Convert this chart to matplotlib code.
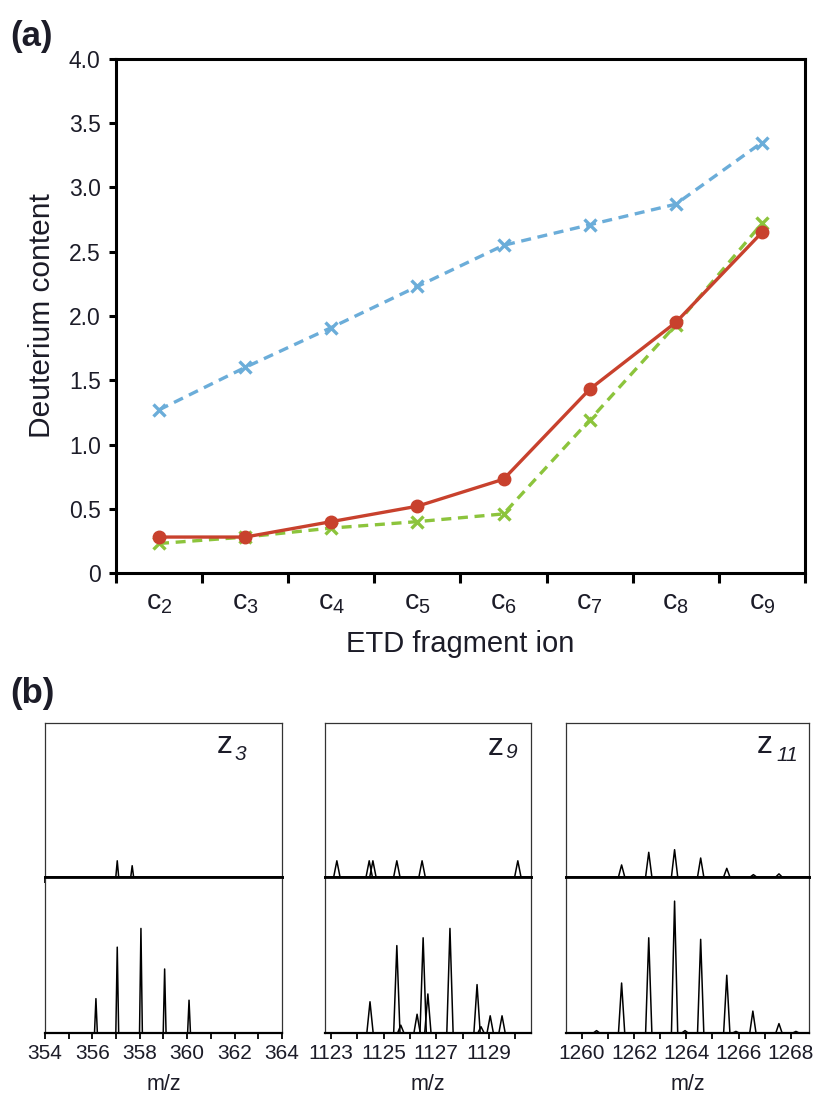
import numpy as np
import matplotlib
matplotlib.use('Agg')
import matplotlib.pyplot as plt

plt.rcParams['font.family'] = ['Liberation Sans', 'DejaVu Sans']
plt.rcParams['mathtext.fontset'] = 'custom'
plt.rcParams['mathtext.rm'] = 'Liberation Sans'
plt.rcParams['mathtext.it'] = 'Liberation Sans:italic'

# (a) deuterium content per ETD fragment ion
ions = ['c$_2$', 'c$_3$', 'c$_4$', 'c$_5$', 'c$_6$', 'c$_7$', 'c$_8$', 'c$_9$']
blue_vals = [1.27, 1.60, 1.91, 2.23, 2.55, 2.71, 2.87, 3.35]
red_vals = [0.28, 0.28, 0.40, 0.52, 0.73, 1.43, 1.95, 2.65]
green_vals = [0.23, 0.28, 0.35, 0.40, 0.46, 1.19, 1.93, 2.72]
y_ticks = [0, 0.5, 1.0, 1.5, 2.0, 2.5, 3.0, 3.5, 4.0]
y_ticklabels = ['0', '0.5', '1.0', '1.5', '2.0', '2.5', '3.0', '3.5', '4.0']

# (b) spectra: peak positions (m/z) and relative heights, top and bottom traces
z3_top_mz = [357.05, 357.68]
z3_top_int = [0.105, 0.073]
z3_bot_mz = [356.15, 357.05, 358.05, 359.05, 360.08]
z3_bot_int = [0.22, 0.55, 0.67, 0.41, 0.21]

z9_top_mz = [1123.22, 1124.45, 1124.59, 1125.5, 1126.46, 1130.1]
z9_top_int = [0.105, 0.105, 0.105, 0.105, 0.105, 0.105]
z9_bot_mz = [1124.48, 1125.5, 1125.65, 1126.27, 1126.5, 1126.68, 1127.52, 1128.55, 1128.7, 1129.05, 1129.5]
z9_bot_int = [0.20, 0.56, 0.05, 0.12, 0.61, 0.25, 0.67, 0.31, 0.04, 0.11, 0.11]

z11_top_mz = [1261.52, 1262.56, 1263.55, 1264.55, 1265.55, 1266.57, 1267.55]
z11_top_int = [0.078, 0.16, 0.177, 0.123, 0.056, 0.015, 0.02]
z11_bot_mz = [1260.56, 1261.52, 1262.56, 1263.55, 1263.95, 1264.55, 1265.55, 1265.9, 1266.55, 1267.55, 1268.2]
z11_bot_int = [0.015, 0.32, 0.61, 0.845, 0.015, 0.60, 0.37, 0.01, 0.14, 0.06, 0.01]

text_col = '#1c1c28'

fig = plt.figure(figsize=(8.15, 10.94), dpi=100)

# ---------- panel (a)
ax = fig.add_axes([0.1423, 0.4762, 0.8454, 0.4699])
x = np.arange(len(ions))
ax.plot(x, blue_vals, color='#6badd9', lw=2.4, ls=(0, (3, 2)), marker='x',
        ms=8, mew=2.4)
ax.plot(x, green_vals, color='#8cc43c', lw=2.4, ls=(0, (3, 2)), marker='x',
        ms=8, mew=2.4)
ax.plot(x, red_vals, color='#c8412d', lw=2.4, marker='o', ms=9)

ax.set_xlim(-0.5, len(ions) - 0.5)
ax.set_ylim(0, 4.0)
ax.set_yticks(y_ticks)
ax.set_yticklabels(y_ticklabels)
ax.set_xticks(np.arange(len(ions) + 1) - 0.5)
ax.set_xticklabels([])
ax.set_xticks(x, minor=True)
ax.set_xticklabels(ions, minor=True)
ax.tick_params(axis='x', which='major', direction='out', length=7, width=2.2)
ax.tick_params(axis='x', which='minor', length=0, pad=12, labelsize=20.5,
               labelcolor=text_col)
ax.tick_params(axis='y', direction='out', length=5, width=2.2, labelsize=16.5,
               labelcolor=text_col, pad=6)
for s in ax.spines.values():
    s.set_linewidth(2.2)
ax.set_xlabel('ETD fragment ion', fontsize=21, color=text_col, labelpad=10)
ax.set_ylabel('Deuterium content', fontsize=21.5, color=text_col, labelpad=9)
fig.text(0.012, 0.967, '(a)', fontsize=25, fontweight='bold', color=text_col,
         va='center')

# ---------- panel (b)
fig.text(0.012, 0.366, '(b)', fontsize=25, fontweight='bold', color=text_col,
         va='center')

columns = [
    ([0.0552, 0.2907], (354, 364), [354, 356, 358, 360, 362, 364], 0.06,
     z3_top_mz, z3_top_int, z3_bot_mz, z3_bot_int, '3', (0.726, 0.805, 0.80, 0.76)),
    ([0.3988, 0.2527], (1122.77, 1130.6), [1123, 1125, 1127, 1129], 0.12,
     z9_top_mz, z9_top_int, z9_bot_mz, z9_bot_int, '9', (0.791, 0.79, 0.874, 0.77)),
    ([0.6945, 0.2981], (1259.39, 1268.70), [1260, 1262, 1264, 1266, 1268], 0.12,
     z11_top_mz, z11_top_int, z11_bot_mz, z11_bot_int, '11', (0.786, 0.805, 0.868, 0.753)),
]

for (left, width), xlim, labs, hw, tmz, tint, bmz, bint, sub, pos in columns:
    axt = fig.add_axes([left, 0.1984, width, 0.1407])
    axb = fig.add_axes([left, 0.0558, width, 0.1426])
    minor = np.arange(int(np.ceil(xlim[0])), xlim[1] + 0.01, 1)
    for a, mz, inten in ((axt, tmz, tint), (axb, bmz, bint)):
        for p, h in zip(mz, inten):
            a.plot([p - hw, p, p + hw], [0, h, 0], color='black', lw=1.1)
        a.set_xlim(*xlim)
        a.set_ylim(0, 1)
        a.set_yticks([])
        for s in a.spines.values():
            s.set_linewidth(0.9)
            s.set_color('#333333')
    axt.set_xticks(minor)
    axt.spines['bottom'].set_linewidth(2.0)
    axt.spines['bottom'].set_color('black')
    axb.spines['top'].set_linewidth(2.0)
    axb.spines['top'].set_color('black')
    axb.spines['bottom'].set_linewidth(1.6)
    axb.spines['bottom'].set_color('black')
    axt.set_xticklabels([])
    axt.tick_params(axis='x', direction='out', length=4, width=1.3)
    axb.set_xticks(labs)
    axb.set_xticks(minor, minor=True)
    axb.set_xticklabels([str(v) for v in labs])
    axb.tick_params(axis='x', which='both', direction='out', length=4, width=1.3,
                    labelsize=15, labelcolor=text_col, pad=4)
    axb.set_xlabel('m/z', fontsize=15.5, color=text_col, labelpad=8)
    zx, zy, sx, sy = pos
    axt.text(zx, zy, 'z', transform=axt.transAxes, ha='left', va='baseline',
             fontsize=23, color=text_col)
    axt.text(sx, sy, sub, transform=axt.transAxes, ha='left', va='baseline',
             fontsize=15, fontstyle='italic', color=text_col)

fig.savefig('out.png', dpi=100)
